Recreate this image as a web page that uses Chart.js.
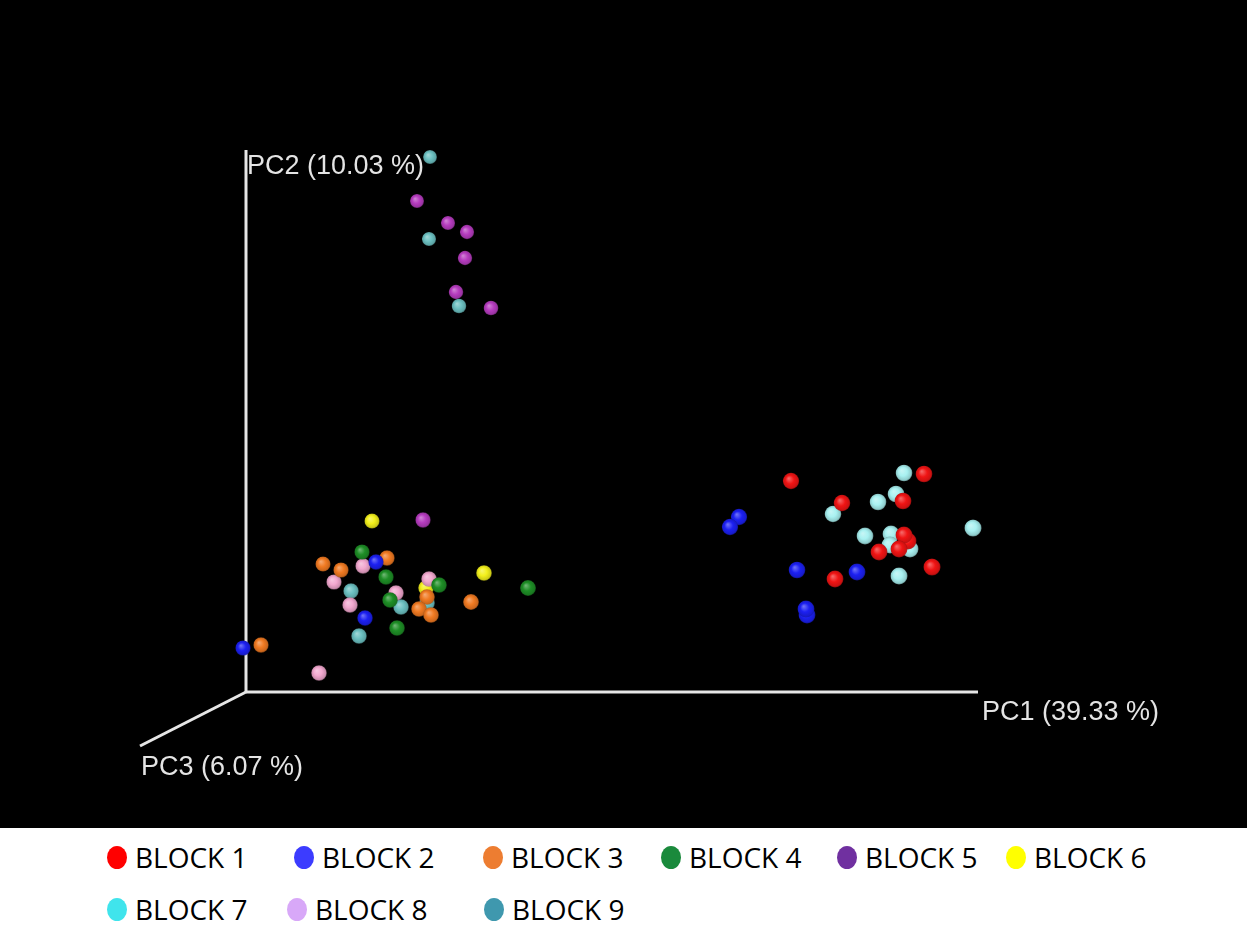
<!DOCTYPE html>
<html>
<head>
<meta charset="utf-8">
<title>PCoA – blocks</title>
<script src="https://cdn.jsdelivr.net/npm/chart.js@4.4.1/dist/chart.umd.min.js"></script>
<style>
  html, body { margin: 0; padding: 0; background: #fff; }
  #plot { position: relative; width: 1247px; height: 828px; background: #000; }
  #legend { position: relative; width: 1247px; height: 100px; background: #fff;
            font-family: "Open Sans", "Liberation Sans", sans-serif; font-size: 28px; color: #000; }
  #legend .item { position: absolute; display: flex; align-items: center; height: 34px; white-space: nowrap; }
  #legend .dot { width: 20px; height: 23px; border-radius: 50%; margin-right: 8px; flex: none; }
</style>
</head>
<body>
<div id="plot"><canvas id="pcoa"></canvas></div>
<div id="legend"></div>
<script>
// Block names
const blocks = ['BLOCK 1', 'BLOCK 2', 'BLOCK 3', 'BLOCK 4', 'BLOCK 5', 'BLOCK 6', 'BLOCK 7', 'BLOCK 8', 'BLOCK 9'];

// Projected sample coordinates [horizontal, vertical] in the 3D view (origin = axis corner)
const block1 = [[545, 211], [678, 218], [657, 191], [596, 189], [662, 151], [658, 157], [653, 143], [633, 140], [686, 125], [589, 113]];
const block2 = [[493, 175], [484, 165], [551, 122], [611, 120], [561, 77], [560, 83], [130, 130], [119, 74], [-3, 44]];
const block3 = [[141, 134], [77, 128], [95, 122], [181, 95], [173, 83], [185, 77], [225, 90], [15, 47]];
const block4 = [[116, 140], [140, 115], [193, 107], [282, 104], [144, 92], [151, 64]];
const block5 = [[171, 491], [202, 469], [221, 460], [219, 434], [210, 400], [245, 384], [177, 172]];
const block6 = [[126, 171], [238, 119], [180, 104]];
const block7 = [[658, 219], [650, 198], [632, 190], [587, 178], [727, 164], [619, 156], [645, 158], [644, 147], [664, 143], [653, 116]];
const block8 = [[117, 126], [88, 110], [183, 113], [150, 99], [104, 87], [73, 19]];
const block9 = [[184, 535], [183, 453], [213, 386], [105, 101], [155, 85], [181, 89], [113, 56]];

// Axis end points in the same projected space
const axisPC1 = [[0, 0], [732, 0]];
const axisPC2 = [[0, 0], [0, 542]];
const axisPC3 = [[0, 0], [-106, -54]];
const axisTitles = ['PC1 (39.33 %)', 'PC2 (10.03 %)', 'PC3 (6.07 %)'];

const blockSeries = [block1, block2, block3, block4, block5, block6, block7, block8, block9];

// Sphere colours in the plot and swatch colours in the legend
const sphereColors = ['#f01414', '#1c20f2', '#f07a22', '#1e8e26', '#b63cbf', '#f3f01c', '#a8f1f1', '#f2a8cf', '#6cc0c1'];
const swatchColors = ['#ff0000', '#3c3cff', '#ed7d31', '#1a8a3c', '#7030a0', '#ffff00', '#40e4ec', '#d8a8f8', '#3f98ae'];
// Drawing depth per block (lower = nearer the viewer)
const blockDepth = [0, 0, 0, 0, 0, 1, 0, 0, 0];

const toPoints = arr => arr.map(([x, y]) => ({ x, y }));

function mix(hex, f, alpha) {
  const n = parseInt(hex.slice(1), 16);
  let r = n >> 16, g = (n >> 8) & 255, b = n & 255;
  if (f >= 0) { r += (255 - r) * f; g += (255 - g) * f; b += (255 - b) * f; }
  else { r *= 1 + f; g *= 1 + f; b *= 1 + f; }
  return `rgba(${r | 0},${g | 0},${b | 0},${alpha === undefined ? 1 : alpha})`;
}

// Slight perspective: farther (higher / leftwards) spheres look a little smaller
function depthRadius(ctx) {
  if (!ctx.parsed || !isFinite(ctx.parsed.x)) return 7.5;
  return 7.7 + 0.0016 * ctx.parsed.x - 0.002 * ctx.parsed.y;
}

function sphereFill(color) {
  return ctx => {
    if (ctx.type !== 'data' || !ctx.parsed) return color;
    const chart = ctx.chart;
    const xs = chart.scales.x, ys = chart.scales.y;
    if (!xs || !ys) return color;
    const cx = xs.getPixelForValue(ctx.parsed.x);
    const cy = ys.getPixelForValue(ctx.parsed.y);
    const r = depthRadius(ctx);
    if (![cx, cy, r].every(Number.isFinite)) return color;
    const g = chart.ctx.createRadialGradient(cx - r * 0.28, cy - r * 0.32, r * 0.05, cx, cy, r);
    g.addColorStop(0, mix(color, 0.35));
    g.addColorStop(0.5, mix(color, 0));
    g.addColorStop(0.88, mix(color, -0.15));
    g.addColorStop(1, mix(color, -0.3, 0.8));
    return g;
  };
}

const sphereSets = blocks.map((name, i) => ({
  label: name,
  data: toPoints(blockSeries[i]),
  backgroundColor: sphereFill(sphereColors[i]),
  borderWidth: 0,
  pointRadius: depthRadius,
  pointHoverRadius: depthRadius,
  order: blockDepth[i]
}));

const axisSets = [axisPC1, axisPC2, axisPC3].map((pts, i) => ({
  label: 'axis-' + i,
  data: toPoints(pts),
  showLine: true,
  borderColor: '#e6e6e6',
  backgroundColor: '#e6e6e6',
  borderWidth: 3,
  borderCapStyle: 'butt',
  pointRadius: 0,
  pointHoverRadius: 0,
  order: 100
}));

const backgroundPlugin = {
  id: 'blackBackground',
  beforeDraw(chart) {
    const c = chart.ctx;
    c.save();
    c.fillStyle = '#000';
    c.fillRect(0, 0, chart.width, chart.height);
    c.restore();
  }
};

// Axis names written next to the far end of each axis line
const axisTitlePlugin = {
  id: 'axisTitles',
  beforeDatasetsDraw(chart) {
    const c = chart.ctx, xs = chart.scales.x, ys = chart.scales.y;
    const ends = [axisPC1[1], axisPC2[1], axisPC3[1]];
    const offsets = [[4, 21], [1, 17], [1, 22]];
    c.save();
    c.fillStyle = '#e4e4e4';
    c.font = '27px "Liberation Sans", Arial, sans-serif';
    c.textAlign = 'left';
    c.textBaseline = 'middle';
    ends.forEach(([x, y], i) => {
      c.fillText(axisTitles[i], xs.getPixelForValue(x) + offsets[i][0], ys.getPixelForValue(y) + offsets[i][1]);
    });
    c.restore();
  }
};

const chart = new Chart(document.getElementById('pcoa'), {
  type: 'scatter',
  data: { datasets: [...sphereSets, ...axisSets] },
  options: {
    responsive: true,
    maintainAspectRatio: false,
    animation: false,
    events: [],
    layout: { padding: 0, autoPadding: false },
    plugins: { legend: { display: false }, tooltip: { enabled: false } },
    scales: {
      x: { type: 'linear', min: -246, max: 1001, display: false },
      y: { type: 'linear', min: -136, max: 692, display: false }
    }
  },
  plugins: [backgroundPlugin, axisTitlePlugin]
});
chart.update();

// HTML legend built from the chart's sphere datasets
const legendSlots = [
  [107, 840], [294, 840], [483, 840], [661, 840], [837, 840], [1006, 840],
  [107, 892], [287, 892], [484, 892]
];
const legendEl = document.getElementById('legend');
chart.data.datasets.slice(0, blocks.length).forEach((ds, i) => {
  const item = document.createElement('div');
  item.className = 'item';
  item.style.left = legendSlots[i][0] + 'px';
  item.style.top = (legendSlots[i][1] - 828) + 'px';
  const dot = document.createElement('span');
  dot.className = 'dot';
  dot.style.background = swatchColors[i];
  const txt = document.createElement('span');
  txt.textContent = ds.label;
  item.appendChild(dot);
  item.appendChild(txt);
  legendEl.appendChild(item);
});
</script>
</body>
</html>
